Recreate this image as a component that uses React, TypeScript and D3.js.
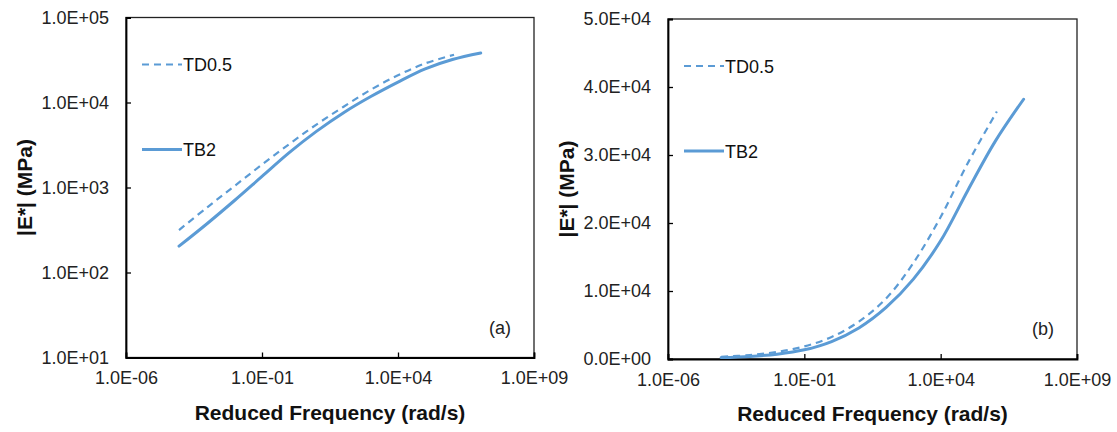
import React, { useRef, useEffect } from "react";
import * as d3 from "d3";

// reduced frequency (rad/s) and dynamic modulus |E*| (MPa)
const tb2Freq = [8.9e-5, 1e-3, 1e-2, 1e-1, 1, 10, 100, 1e3, 1e4, 1e5, 1e6, 1.1e7];
const tb2Modulus = [204, 380, 708, 1350, 2570, 4570, 7590, 11750, 17380, 24830, 32000, 38200];

const td05Freq = [8.9e-5, 1e-3, 1e-2, 1e-1, 1, 10, 100, 1e3, 1e4, 1e5, 1.15e6];
const td05Modulus = [316, 589, 1047, 1860, 3240, 5500, 8910, 14130, 20890, 28840, 36400];

const xTicks = [1e-6, 1e-1, 1e4, 1e9];
const yTicksLog = [1e1, 1e2, 1e3, 1e4, 1e5];
const yTicksLin = [0, 1e4, 2e4, 3e4, 4e4, 5e4];

const seriesNames = ["TD0.5", "TB2"];
const panelLabels = ["(a)", "(b)"];

const BLUE = "#5B9BD5";
const FONT = "'Liberation Sans', Arial, sans-serif";

// Excel-like scientific label, e.g. 1.0E+05
function sci(v: number) {
  const [m, e] = v.toExponential(1).split("e");
  const n = Math.abs(+e);
  return m + "E" + (+e < 0 ? "-" : "+") + (n < 10 ? "0" + n : "" + n);
}

function App() {
  const svgRef = useRef<SVGSVGElement>(null);

  useEffect(() => {
    const svg = d3.select(svgRef.current);
    svg.selectAll("*").remove();

    const panels = [
      { left: 126, top: 17.5, width: 408, height: 340, log: true, label: panelLabels[0] },
      { left: 668, top: 19, width: 409, height: 340, log: false, label: panelLabels[1] },
    ];

    panels.forEach((p) => {
      const g = svg.append("g").attr("transform", `translate(${p.left},${p.top})`);

      const x = d3.scaleLog().domain([1e-6, 1e9]).range([0, p.width]);
      const y = p.log
        ? d3.scaleLog().domain([1e1, 1e5]).range([p.height, 0])
        : d3.scaleLinear().domain([0, 5e4]).range([p.height, 0]);
      const yTicks = p.log ? yTicksLog : yTicksLin;

      // plot frame
      g.append("rect")
        .attr("width", p.width)
        .attr("height", p.height)
        .attr("fill", "none")
        .attr("stroke", "#222")
        .attr("stroke-width", 1.3);

      // axes with inward ticks
      const xAxis = g
        .append("g")
        .attr("transform", `translate(0,${p.height})`)
        .call(d3.axisBottom(x).tickValues(xTicks).tickSize(-5).tickPadding(14).tickFormat((d) => sci(+d)));
      const yAxis = g
        .append("g")
        .call(d3.axisLeft(y as any).tickValues(yTicks).tickSize(-5).tickPadding(17).tickFormat((d: any) => sci(+d)));

      [xAxis, yAxis].forEach((a) => {
        a.select(".domain").attr("stroke", "#000").attr("stroke-width", 1.8);
        a.selectAll(".tick line").attr("stroke", "#000").attr("stroke-width", 1.3);
        a.selectAll(".tick text")
          .attr("fill", "#222")
          .style("font-family", FONT)
          .style("font-size", "18px");
      });
      xAxis.selectAll(".tick text").attr("dy", "0.71em");

      // curves
      const line = d3
        .line<[number, number]>()
        .x((d) => x(d[0]))
        .y((d) => (y as any)(d[1]))
        .curve(d3.curveCatmullRom.alpha(0.5));

      const td = td05Freq.map((f, i) => [f, td05Modulus[i]] as [number, number]);
      const tb = tb2Freq.map((f, i) => [f, tb2Modulus[i]] as [number, number]);

      g.append("path")
        .attr("d", line(tb))
        .attr("fill", "none")
        .attr("stroke", BLUE)
        .attr("stroke-width", 3)
        .attr("stroke-linecap", "round");

      g.append("path")
        .attr("d", line(td))
        .attr("fill", "none")
        .attr("stroke", BLUE)
        .attr("stroke-width", 2.2)
        .attr("stroke-dasharray", "7,5");

      // legend
      const legend = g.append("g").attr("transform", "translate(16,0)");
      seriesNames.forEach((name, i) => {
        const ly = i === 0 ? 47 : 132;
        legend
          .append("line")
          .attr("x1", 0)
          .attr("x2", 40)
          .attr("y1", ly)
          .attr("y2", ly)
          .attr("stroke", BLUE)
          .attr("stroke-width", i === 0 ? 2.2 : 3)
          .attr("stroke-dasharray", i === 0 ? "7,5" : null);
        legend
          .append("text")
          .attr("x", 41)
          .attr("y", ly + 6.5)
          .style("font-family", FONT)
          .style("font-size", "18px")
          .attr("fill", "#111")
          .text(name);
      });

      // panel tag
      g.append("text")
        .attr("x", p.width - 23)
        .attr("y", p.height - 24)
        .attr("text-anchor", "end")
        .style("font-family", FONT)
        .style("font-size", "18px")
        .attr("fill", "#222")
        .text(p.label);

      // axis titles
      g.append("text")
        .attr("x", p.width / 2)
        .attr("y", p.height + 62)
        .attr("text-anchor", "middle")
        .style("font-family", FONT)
        .style("font-size", "21px")
        .style("font-weight", "bold")
        .attr("fill", "#111")
        .text("Reduced Frequency (rad/s)");

      g.append("text")
        .attr("transform", `translate(-94,${p.height / 2}) rotate(-90)`)
        .attr("text-anchor", "middle")
        .style("font-family", FONT)
        .style("font-size", "21px")
        .style("font-weight", "bold")
        .attr("fill", "#111")
        .text("|E*| (MPa)");
    });
  }, []);

  return (
    <svg
      ref={svgRef}
      width={1117}
      height={432}
      style={{ position: "absolute", left: 0, top: 0, background: "#fff" }}
    ></svg>
  );
}

export default App;
